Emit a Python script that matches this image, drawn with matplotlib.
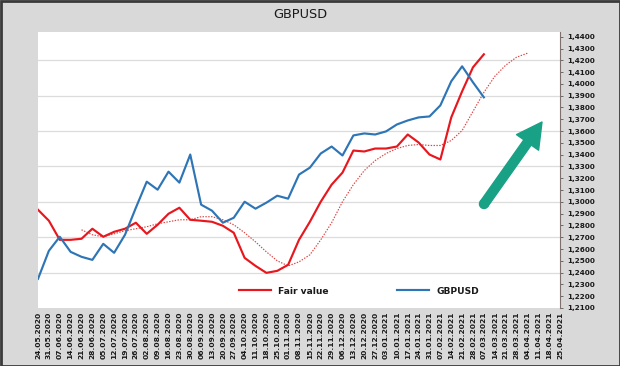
import matplotlib
matplotlib.use("Agg")
import matplotlib.pyplot as plt
import numpy as np
from matplotlib.patches import FancyArrow, Rectangle, Circle
from matplotlib.transforms import IdentityTransform

dates = ["24.05.2020", "31.05.2020", "07.06.2020", "14.06.2020", "21.06.2020", "28.06.2020",
         "05.07.2020", "12.07.2020", "19.07.2020", "26.07.2020", "02.08.2020", "09.08.2020",
         "16.08.2020", "23.08.2020", "30.08.2020", "06.09.2020", "13.09.2020", "20.09.2020",
         "27.09.2020", "04.10.2020", "11.10.2020", "18.10.2020", "25.10.2020", "01.11.2020",
         "08.11.2020", "15.11.2020", "22.11.2020", "29.11.2020", "06.12.2020", "13.12.2020",
         "20.12.2020", "27.12.2020", "03.01.2021", "10.01.2021", "17.01.2021", "24.01.2021",
         "31.01.2021", "07.02.2021", "14.02.2021", "21.02.2021", "28.02.2021", "07.03.2021",
         "14.03.2021", "21.03.2021", "28.03.2021", "04.04.2021", "11.04.2021", "18.04.2021",
         "25.04.2021"]

fair_value = [1.2933, 1.2840, 1.2678, 1.2678, 1.2687, 1.2772, 1.2704, 1.2746, 1.2772, 1.2823,
              1.2729, 1.2806, 1.2899, 1.2950, 1.2848, 1.2840, 1.2831, 1.2797, 1.2738, 1.2525,
              1.2457, 1.2398, 1.2415, 1.2466, 1.2678, 1.2831, 1.3001, 1.3146, 1.3248, 1.3435,
              1.3427, 1.3452, 1.3452, 1.3469, 1.3571, 1.3503, 1.3401, 1.3359, 1.3716, 1.3937,
              1.4141, 1.4251]

gbpusd = [1.2347, 1.2585, 1.2704, 1.2576, 1.2534, 1.2508, 1.2644, 1.2568, 1.2721, 1.2950,
          1.3171, 1.3103, 1.3256, 1.3163, 1.3401, 1.2976, 1.2925, 1.2823, 1.2865, 1.3001,
          1.2942, 1.2993, 1.3052, 1.3027, 1.3231, 1.3290, 1.3410, 1.3469, 1.3393, 1.3563,
          1.3580, 1.3571, 1.3597, 1.3656, 1.3690, 1.3716, 1.3724, 1.3818, 1.4022, 1.4149,
          1.4013, 1.3886]

fair_value_trend = [None, None, None, None,
                    1.2763, 1.2721, 1.2704, 1.2729, 1.2755, 1.2772, 1.2789, 1.2814, 1.2831, 1.2848,
                    1.2848, 1.2874, 1.2874, 1.2848, 1.2806, 1.2738, 1.2661, 1.2576, 1.2500, 1.2457,
                    1.2491, 1.2551, 1.2678, 1.2823, 1.3001, 1.3146, 1.3265, 1.3350, 1.3410, 1.3452,
                    1.3478, 1.3486, 1.3478, 1.3478, 1.3520, 1.3605, 1.3767, 1.3928, 1.4064, 1.4158,
                    1.4226, 1.4260]

y_ticks = [1.21 + 0.01 * k for k in range(24)]
grid_levels = [1.24, 1.27, 1.30, 1.33, 1.36, 1.39, 1.42]

W, H = 620, 366
fig = plt.figure(figsize=(W / 100, H / 100), dpi=100)
fig.patch.set_facecolor("#d9d9d9")

ax = fig.add_axes([38 / W, 1 - 308 / H, (560 - 38) / W, (308 - 32) / H])
ax.set_facecolor("white")

for g in grid_levels:
    ax.axhline(g, color="#dcdcdc", lw=0.9, zorder=1)

def to_arr(v):
    return np.array([np.nan if x is None else x for x in v], dtype=float)

tr = to_arr(fair_value_trend)
ax.plot(np.arange(len(tr)), tr, color="#dc4545", lw=0.85, ls=(0, (1.2, 1.2)), zorder=2)
l1, = ax.plot(np.arange(len(fair_value)), fair_value, color="#e8161d", lw=1.55,
              zorder=3, label="Fair value", solid_joinstyle="round")
l2, = ax.plot(np.arange(len(gbpusd)), gbpusd, color="#2e75b6", lw=1.55,
              zorder=3, label="GBPUSD", solid_joinstyle="round")

ax.set_xlim(0, len(dates) - 1)
ax.set_ylim(1.21, 1.444)

ax.yaxis.tick_right()
ax.set_yticks(y_ticks)
ax.set_yticklabels([f"{v:.4f}".replace(".", ",") for v in y_ticks],
                   fontsize=5.2, fontweight="bold", color="#1a1a1a")
ax.tick_params(axis="y", which="both", length=2.5, width=0.6, color="#595959", pad=3)

ax.set_xticks(np.arange(len(dates)))
ax.set_xticklabels(dates, rotation=90, fontsize=5.4, fontweight="bold", color="#1a1a1a")
ax.tick_params(axis="x", length=0, pad=2.5)

for s in ["left", "top", "bottom"]:
    ax.spines[s].set_visible(False)
ax.spines["right"].set_color("#7f6f6f")
ax.spines["right"].set_linewidth(0.8)

fig.text(300 / W, 1 - 15 / H, "GBPUSD", ha="center", va="center", fontsize=9.3, color="#1a1a1a")

leg = ax.legend(handles=[l1, l2], ncol=2, loc="center",
                bbox_to_anchor=(359 / W, 1 - 291 / H), bbox_transform=fig.transFigure,
                frameon=False, handlelength=3.5, handletextpad=0.8, columnspacing=7.5,
                prop={"weight": "bold", "size": 6.6})
for t in leg.get_texts():
    t.set_color("#1a1a1a")

# teal arrow (pixel coordinates, origin bottom-left)
tail = (484, H - 204)
tip = (542, H - 122)
arrow = FancyArrow(tail[0], tail[1], tip[0] - tail[0], tip[1] - tail[1], width=9,
                   head_width=27, head_length=25, length_includes_head=True,
                   color="#19a185", transform=IdentityTransform(), joinstyle="round")
fig.add_artist(arrow)
fig.add_artist(Circle(tail, 4.5, color="#19a185", transform=IdentityTransform()))

# outer border
fig.add_artist(Rectangle((0.5, 0.5), W - 1, H - 1, fill=False, edgecolor="#3a3a3a",
                         lw=2.0, transform=IdentityTransform()))

fig.savefig("out.png", dpi=100, facecolor=fig.get_facecolor())
